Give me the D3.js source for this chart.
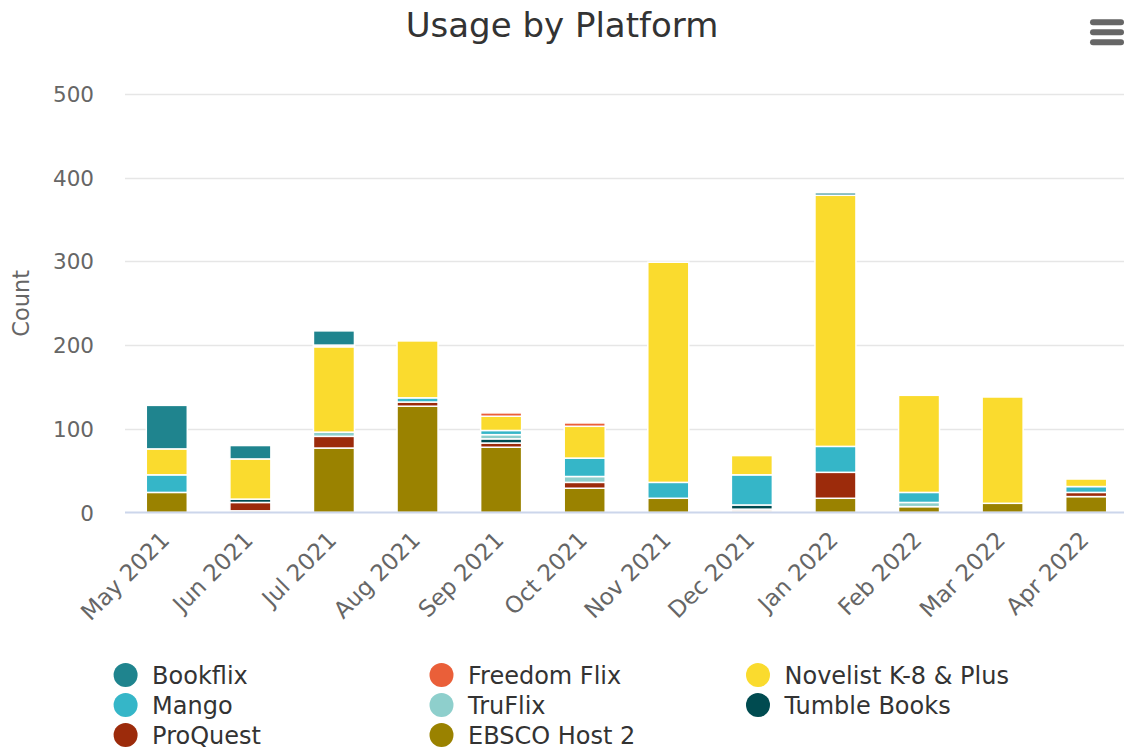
<!DOCTYPE html>
<html>
<head>
<meta charset="utf-8">
<script src="https://cdn.jsdelivr.net/npm/d3@7/dist/d3.min.js"></script>
<style>
  html, body { margin: 0; padding: 0; background: #fff; }
  svg { display: block; font-family: "DejaVu Sans", sans-serif; }
</style>
</head>
<body>
<svg id="chart" width="1124" height="751"></svg>
<script>
const categories = ["May 2021","Jun 2021","Jul 2021","Aug 2021","Sep 2021","Oct 2021",
                    "Nov 2021","Dec 2021","Jan 2022","Feb 2022","Mar 2022","Apr 2022"];
const seriesNames = ["Bookflix","Freedom Flix","Novelist K-8 & Plus","Mango","TruFlix",
                     "Tumble Books","ProQuest","EBSCO Host 2"];
const seriesColors = ["#1f848e","#ea5f39","#fadb2e","#35b6c8","#8ecfcc","#004b50","#9c2b0b","#9a8200"];
const bookflix   = [52, 16, 17,   0,  0,  0,   0,  0,   3,   0,   0,  0];
const freedomFlix= [ 0,  0,  2,   0,  4,  4,   0,  0,   0,   0,   0,  0];
const novelist   = [31, 48, 102, 68, 17, 38, 263, 23, 300, 116, 127,  9];
const mango      = [21,  0,  0,   5,  5, 22,  19, 36,  31,  12,   0,  7];
const truflix    = [ 0,  0,  5,   0,  5,  7,   0,  0,   0,   5,   0,  0];
const tumble     = [ 0,  4,  0,   0,  5,  0,   0,  5,   0,   0,   0,  0];
const proquest   = [ 0, 10, 14,   5,  5,  7,   0,  2,  31,   0,   0,  5];
const ebsco      = [24,  2, 77, 127, 78, 29,  17,  2,  17,   7,  11, 19];
const yTicks = [0, 100, 200, 300, 400, 500];

const seriesValues = [bookflix, freedomFlix, novelist, mango, truflix, tumble, proquest, ebsco];

const svg = d3.select("#chart");
const plot = {left: 125, right: 1128, top: 94, bottom: 512.5};

const x = d3.scaleBand().domain(categories).range([plot.left, plot.right]).paddingInner(0).paddingOuter(0);
const y = d3.scaleLinear().domain([0, 500]).range([plot.bottom, plot.top]);

// Title
svg.append("text").attr("x", 562).attr("y", 37).attr("text-anchor", "middle")
  .attr("font-size", 34).attr("fill", "#333").text("Usage by Platform");

// Menu icon
[22.3, 32.3, 42.3].forEach(yy => {
  svg.append("line").attr("x1", 1093).attr("x2", 1121).attr("y1", yy).attr("y2", yy)
    .attr("stroke", "#666").attr("stroke-width", 6).attr("stroke-linecap", "round");
});

// Grid lines
const grid = svg.append("g");
yTicks.filter(t => t > 0).forEach(t => {
  grid.append("line").attr("x1", plot.left).attr("x2", 1124)
    .attr("y1", Math.round(y(t)) + 0.5).attr("y2", Math.round(y(t)) + 0.5)
    .attr("stroke", "#e6e6e6").attr("stroke-width", 1.5);
});

// Y axis labels via d3 axis
const yAxis = d3.axisLeft(y).tickValues(yTicks).tickSize(0).tickPadding(0);
const yG = svg.append("g").attr("transform", `translate(94,0)`).call(yAxis);
yG.select(".domain").remove();
yG.selectAll("text").attr("font-size", 21.5).attr("fill", "#666")
  .attr("font-family", "DejaVu Sans, sans-serif").attr("dy", "0.35em");

// Y axis title
svg.append("text").attr("transform", `translate(29,${(plot.top + plot.bottom) / 2}) rotate(-90)`)
  .attr("text-anchor", "middle").attr("font-size", 22.5).attr("fill", "#666").text("Count");

// Stack: first series on top -> stack order bottom-up is reversed
const rows = categories.map((c, i) => {
  const o = {cat: c};
  seriesNames.forEach((s, k) => o[s] = seriesValues[k][i]);
  return o;
});
const stackKeys = seriesNames.slice().reverse();
const stacked = d3.stack().keys(stackKeys)(rows);

const barW = 41;
const bars = svg.append("g");
stacked.forEach(layer => {
  const color = seriesColors[seriesNames.indexOf(layer.key)];
  bars.selectAll(null).data(layer.filter(d => d[1] - d[0] > 0)).enter().append("rect")
    .attr("x", d => x(d.data.cat) + x.bandwidth() / 2 - barW / 2)
    .attr("y", d => y(d[1]))
    .attr("width", barW)
    .attr("height", d => y(d[0]) - y(d[1]))
    .attr("fill", color)
    .attr("stroke", "#fff").attr("stroke-width", 1.5);
});

// X axis line
svg.append("line").attr("x1", plot.left).attr("x2", 1124)
  .attr("y1", plot.bottom).attr("y2", plot.bottom)
  .attr("stroke", "#ccd6eb").attr("stroke-width", 2);

// X axis labels
const xAxis = d3.axisBottom(x).tickSize(0).tickPadding(0);
const xG = svg.append("g").attr("transform", `translate(0,${plot.bottom})`).call(xAxis);
xG.select(".domain").remove();
xG.selectAll("text")
  .attr("font-size", 23).attr("fill", "#666").attr("font-family", "DejaVu Sans, sans-serif")
  .attr("text-anchor", "end").attr("dy", null).attr("y", 0)
  .attr("transform", "translate(4,29) rotate(-45)");

// Legend
const legendCols = [125.6, 441.5, 758];
const legendRows = [675, 705, 735];
const legend = svg.append("g");
seriesNames.forEach((s, k) => {
  const cx = legendCols[k % 3], cy = legendRows[Math.floor(k / 3)];
  legend.append("circle").attr("cx", cx).attr("cy", cy).attr("r", 12).attr("fill", seriesColors[k]);
  legend.append("text").attr("x", cx + 26.5).attr("y", cy).attr("dy", "0.36em")
    .attr("font-size", 24).attr("fill", "#333").text(s);
});
</script>
</body>
</html>
